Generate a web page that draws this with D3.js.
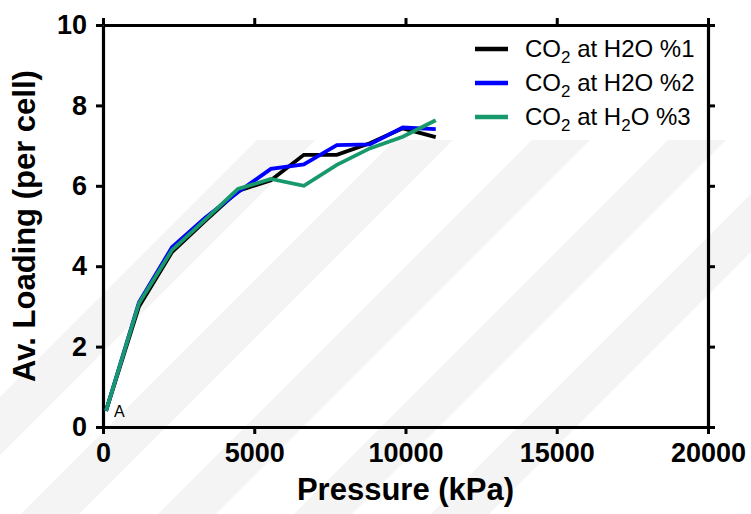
<!DOCTYPE html>
<html>
<head>
<meta charset="utf-8">
<script src="https://cdn.jsdelivr.net/npm/d3@7/dist/d3.min.js"></script>
<style>
  html, body { margin: 0; padding: 0; background: #fff; }
  svg { display: block; }
  text { font-family: "Liberation Sans", Arial, sans-serif; }
</style>
</head>
<body>
<svg id="chart" width="751" height="514"></svg>
<script>
// ---- data ----
const pressure = [100, 1190, 2280, 3370, 4460, 5550, 6640, 7730, 8820, 9910, 11000];
const loadingH2O1 = [0.40, 3.00, 4.35, 5.12, 5.87, 6.14, 6.77, 6.77, 7.06, 7.43, 7.21];
const loadingH2O2 = [0.40, 3.10, 4.47, 5.20, 5.84, 6.42, 6.53, 7.01, 7.03, 7.45, 7.41];
const loadingH2O3 = [0.40, 3.08, 4.40, 5.15, 5.92, 6.17, 6.00, 6.52, 6.93, 7.22, 7.63];
const seriesNames = ["H2O %1", "H2O %2", "H2O %3"];
const xTicks = [0, 5000, 10000, 15000, 20000];
const yTicks = [0, 2, 4, 6, 8, 10];

const series = [
  { name: seriesNames[0], values: loadingH2O1, color: "#000000", subH: false },
  { name: seriesNames[1], values: loadingH2O2, color: "#0000ff", subH: false },
  { name: seriesNames[2], values: loadingH2O3, color: "#17996b", subH: true }
];

const svg = d3.select("#chart");
const m = { left: 103, right: 708, top: 25, bottom: 427 };

const x = d3.scaleLinear().domain([0, 20000]).range([m.left, m.right]);
const y = d3.scaleLinear().domain([0, 10]).range([m.bottom, m.top]);

// faint background watermark: diagonal stripes
const wm = svg.append("g").attr("fill", "#f4f4f4");
[257, 395, 532, 668, 805].forEach(t => {
  const top = 140, bot = 514, w = 58, dx = bot - top;
  wm.append("polygon").attr("points",
    `${t},${top} ${t + w},${top} ${t + w - dx},${bot} ${t - dx},${bot}`);
});

const axisStyle = g => {
  g.select(".domain").attr("stroke", "#000").attr("stroke-width", 3.2);
  g.selectAll(".tick line").attr("stroke", "#000").attr("stroke-width", 3);
};

// bottom axis
svg.append("g")
  .attr("transform", `translate(0,${m.bottom})`)
  .call(d3.axisBottom(x).tickValues(xTicks).tickSize(7).tickSizeOuter(0).tickPadding(9).tickFormat(d3.format("d")))
  .call(axisStyle)
  .call(g => g.selectAll("text").attr("font-size", 27).attr("font-weight", "bold").attr("fill", "#000"));

// top axis
svg.append("g")
  .attr("transform", `translate(0,${m.top})`)
  .call(d3.axisTop(x).tickValues(xTicks).tickSize(7).tickSizeOuter(0).tickFormat(""))
  .call(axisStyle);

// left axis
svg.append("g")
  .attr("transform", `translate(${m.left},0)`)
  .call(d3.axisLeft(y).tickValues(yTicks).tickSize(7).tickSizeOuter(0).tickPadding(9).tickFormat(d3.format("d")))
  .call(axisStyle)
  .call(g => g.selectAll("text").attr("font-size", 27).attr("font-weight", "bold").attr("fill", "#000"));

// right axis
svg.append("g")
  .attr("transform", `translate(${m.right},0)`)
  .call(d3.axisRight(y).tickValues(yTicks).tickSize(7).tickSizeOuter(0).tickFormat(""))
  .call(axisStyle);

// lines
const line = d3.line().x((d, i) => x(pressure[i])).y(d => y(d));
series.forEach(s => {
  svg.append("path")
    .datum(s.values)
    .attr("fill", "none")
    .attr("stroke", s.color)
    .attr("stroke-width", 3.8)
    .attr("stroke-linejoin", "miter")
    .attr("d", line);
});

// "A" label
svg.append("text").attr("x", 114).attr("y", 417).attr("font-size", 16).attr("fill", "#000").text("A");

// axis titles
svg.append("text")
  .attr("x", (m.left + m.right) / 2).attr("y", 500)
  .attr("text-anchor", "middle").attr("font-size", 31).attr("font-weight", "bold")
  .text("Pressure (kPa)");
svg.append("text")
  .attr("transform", `translate(35,${(m.top + m.bottom) / 2}) rotate(-90)`)
  .attr("text-anchor", "middle").attr("font-size", 31).attr("font-weight", "bold")
  .text("Av. Loading (per cell)");

// legend
const leg = svg.append("g");
series.forEach((s, i) => {
  const cy = 49 + i * 34;
  leg.append("line").attr("x1", 475).attr("x2", 508).attr("y1", cy).attr("y2", cy)
    .attr("stroke", s.color).attr("stroke-width", 4.5);
  const t = leg.append("text").attr("x", 525).attr("y", cy + 8).attr("font-size", 24).attr("fill", "#000");
  t.append("tspan").text("CO");
  t.append("tspan").attr("font-size", 17).attr("dy", 6).text("2");
  t.append("tspan").attr("dy", -6).text(" at H");
  if (s.subH) {
    t.append("tspan").attr("font-size", 17).attr("dy", 6).text("2");
    t.append("tspan").attr("dy", -6).text("O " + s.name.split(" ")[1]);
  } else {
    t.append("tspan").text("2O " + s.name.split(" ")[1]);
  }
});
</script>
</body>
</html>
